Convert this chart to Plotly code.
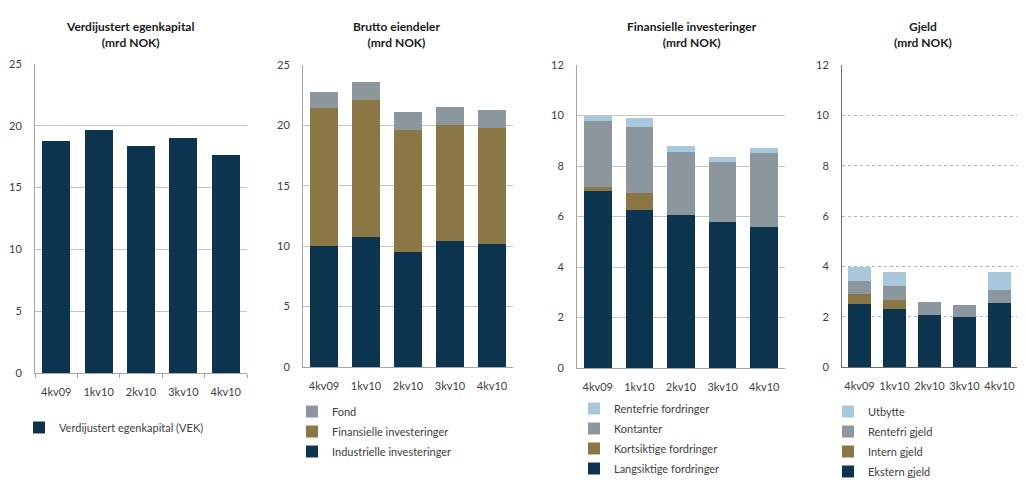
import plotly.graph_objects as go

quarters = ['4kv09', '1kv10', '2kv10', '3kv10', '4kv10']

# Verdijustert egenkapital
vek = [18.8, 19.7, 18.4, 19.0, 17.6]

# Brutto eiendeler
industrielle = [10.0, 10.8, 9.5, 10.4, 10.2]
finansielle = [11.4, 11.3, 10.1, 9.6, 9.6]
fond = [1.4, 1.5, 1.5, 1.5, 1.5]

# Finansielle investeringer
langsiktige = [7.0, 6.25, 6.05, 5.8, 5.6]
kortsiktige = [0.15, 0.7, 0, 0, 0]
kontanter = [2.65, 2.6, 2.5, 2.35, 2.9]
rentefrie = [0.2, 0.35, 0.25, 0.2, 0.2]

# Gjeld
ekstern = [2.5, 2.3, 2.07, 2.0, 2.55]
intern = [0.4, 0.36, 0, 0, 0]
rentefri_gjeld = [0.5, 0.56, 0.53, 0.45, 0.51]
utbytte = [0.57, 0.57, 0, 0, 0.73]

NAVY = '#0c344e'
GOLD = '#8b7646'
GRAY = '#8b969d'
LIGHT = '#aac8dc'
FONT = 'Lato'
# page has an 8px body margin; keep the figure inside the window
W, H = 1009, 470

fig = go.Figure()


def add(y, name, color, ax, legend, rank):
    n = '' if ax == 1 else str(ax)
    fig.add_trace(go.Bar(x=quarters, y=y, name=name, marker_color=color,
                         marker_line_width=0, xaxis='x' + n, yaxis='y' + n,
                         legend=legend, legendgroup=name + n, legendrank=rank))


add(vek, 'Verdijustert egenkapital (VEK)', NAVY, 1, 'legend', 1)

add(industrielle, 'Industrielle investeringer', NAVY, 2, 'legend2', 3)
add(finansielle, 'Finansielle investeringer', GOLD, 2, 'legend2', 2)
add(fond, 'Fond', GRAY, 2, 'legend2', 1)

add(langsiktige, 'Langsiktige fordringer', NAVY, 3, 'legend3', 4)
add(kortsiktige, 'Kortsiktige fordringer', GOLD, 3, 'legend3', 3)
add(kontanter, 'Kontanter', GRAY, 3, 'legend3', 2)
add(rentefrie, 'Rentefrie fordringer', LIGHT, 3, 'legend3', 1)

add(ekstern, 'Ekstern gjeld', NAVY, 4, 'legend4', 4)
add(intern, 'Intern gjeld', GOLD, 4, 'legend4', 3)
add(rentefri_gjeld, 'Rentefri gjeld', GRAY, 4, 'legend4', 2)
add(utbytte, 'Utbytte', LIGHT, 4, 'legend4', 1)


def px_x(p):
    return p / W


def px_y(p):
    return 1 - p / H


# plot areas in pixels: (left, right, bottom, top)
panels = [(27, 239, 365, 56), (295, 505, 359, 57), (569, 777, 360, 57), (834, 1009, 359, 57)]
yranges = [[0, 25], [0, 25], [0, 12], [0, 12]]
xranges = [[-0.5, 4.5], [-0.5, 4.5], [-0.5, 4.5], [-0.5, 4.5]]
tick_font = dict(family=FONT, size=11, color='#404040')

for i, (l, r, b, t) in enumerate(panels):
    n = '' if i == 0 else str(i + 1)
    dotted = i == 3
    fig.update_layout({
        'xaxis' + n: dict(domain=[px_x(l), px_x(r)], anchor='y' + n, range=xranges[i],
                          showline=True, linecolor='#6e6e6e' if dotted else '#a6a6a6',
                          ticks='outside' if i == 0 else '', ticklen=4, tickcolor='#a6a6a6',
                          tickson='boundaries', tickfont=tick_font, ticklabelstandoff=9,
                          fixedrange=True, automargin=False),
        'yaxis' + n: dict(domain=[px_y(b), px_y(t)], anchor='x' + n, range=yranges[i],
                          dtick=5 if i < 2 else 2, showline=True,
                          linecolor='#6e6e6e' if dotted else '#a6a6a6',
                          showgrid=True, gridcolor='#b4b4b4' if dotted else '#c4c4c4',
                          griddash='dot' if dotted else 'solid', gridwidth=1,
                          ticks='', ticklabelstandoff=10,
                          tickfont=tick_font, zeroline=False, fixedrange=True,
                          automargin=False),
    })

titles = [('Verdijustert egenkapital<br>(mrd NOK)', 122),
          ('Brutto eiendeler<br>(mrd NOK)', 388),
          ('Finansielle investeringer<br>(mrd NOK)', 684),
          ('Gjeld<br>(mrd NOK)', 915)]
for text, cx in titles:
    fig.add_annotation(text=text, x=px_x(cx), y=px_y(9), xref='paper', yref='paper',
                       xanchor='center', yanchor='top', showarrow=False,
                       font=dict(family=FONT, size=12, color='#1a1a1a', weight='bold'))

leg = dict(font=dict(family=FONT, size=11, color='#404040'), bgcolor='rgba(0,0,0,0)',
           traceorder='grouped', tracegroupgap=1, xanchor='left', yanchor='top')
fig.update_layout(
    legend=dict(leg, x=px_x(11), y=px_y(405)),
    legend2=dict(leg, x=px_x(284), y=px_y(389)),
    legend3=dict(leg, x=px_x(566), y=px_y(386)),
    legend4=dict(leg, x=px_x(820), y=px_y(389)),
)

fig.update_layout(
    width=W, height=H, barmode='stack', bargap=0.34,
    margin=dict(l=0, r=0, t=0, b=0, autoexpand=False),
    paper_bgcolor='white', plot_bgcolor='white',
    showlegend=True,
)

fig.write_html("out.html")
